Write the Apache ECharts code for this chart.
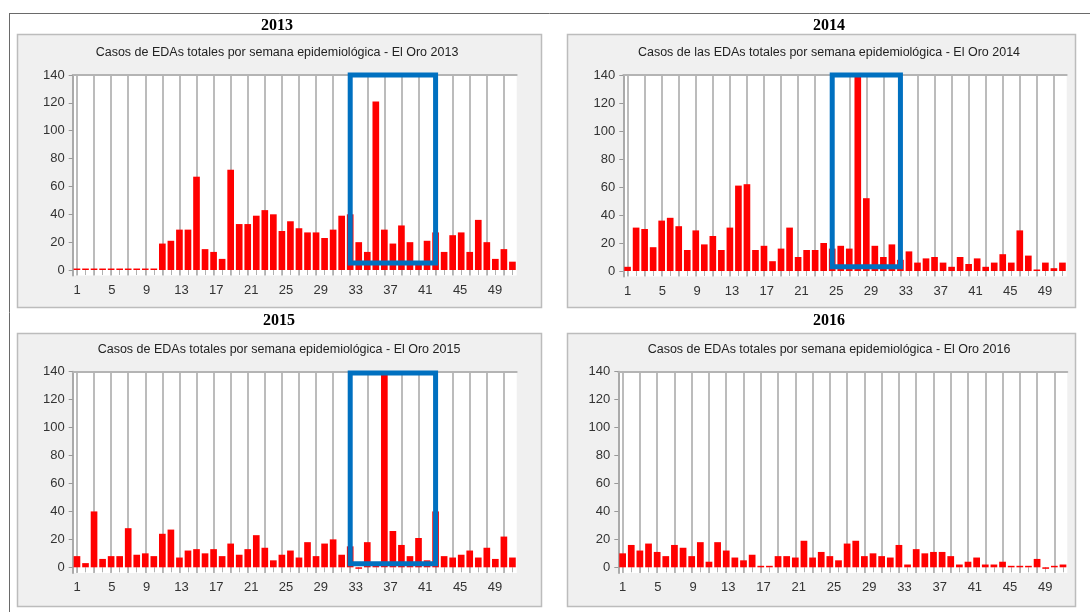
<!DOCTYPE html>
<html>
<head>
<meta charset="utf-8">
<title>Casos de EDAs totales por semana epidemiológica - El Oro</title>
<script src="https://cdn.jsdelivr.net/npm/echarts@6/dist/echarts.min.js"></script>
<style>
    html, body { margin: 0; padding: 0; background: #fff; }
    #chart { width: 1090px; height: 612px; }
</style>
</head>
<body>
<div id="chart"></div>
<script>
// epidemiological weeks (categories) and y tick labels
var weeks = ['1', '2', '3', '4', '5', '6', '7', '8', '9', '10', '11', '12', '13', '14', '15', '16', '17', '18',
    '19', '20', '21', '22', '23', '24', '25', '26', '27', '28', '29', '30', '31', '32', '33', '34', '35', '36',
    '37', '38', '39', '40', '41', '42', '43', '44', '45', '46', '47', '48', '49', '50', '51', '52'];
var yTicks = [0, 20, 40, 60, 80, 100, 120, 140];

var years = ['2013', '2014', '2015', '2016'];
var chartTitles = [
    'Casos de EDAs totales por semana epidemiológica - El Oro 2013',
    'Casos de las EDAs totales por semana epidemiológica - El Oro 2014',
    'Casos de EDAs totales por semana epidemiológica - El Oro 2015',
    'Casos de EDAs totales por semana epidemiológica - El Oro 2016'
];

// weekly cases (peaks above 140 are cut by the axis)
var cases2013 = [0, 0, 0, 0, 0, 0, 0, 0, 0, 0, 19, 21, 29, 29, 67, 15, 13, 8, 72, 33,
    33, 39, 43, 40, 28, 35, 30, 27, 27, 23, 29, 39, 40, 20, 13, 121, 29, 19, 32, 20,
    4, 21, 27, 13, 25, 27, 13, 36, 20, 8, 15, 6];
var cases2014 = [3, 31, 30, 17, 36, 38, 32, 15, 29, 19, 25, 15, 31, 61, 62, 15, 18, 7, 16, 31,
    10, 15, 15, 20, 16, 18, 16, 150, 52, 18, 10, 19, 8, 14, 6, 9, 10, 6, 3, 10,
    5, 9, 3, 6, 12, 6, 29, 11, 1, 6, 2, 6];
var cases2015 = [8, 3, 40, 6, 8, 8, 28, 9, 10, 8, 24, 27, 7, 12, 13, 10, 13, 8, 17, 9,
    13, 23, 14, 5, 9, 12, 7, 18, 8, 17, 20, 9, 15, -1, 18, 2, 150, 26, 16, 8,
    21, 5, 40, 8, 7, 9, 12, 7, 14, 6, 22, 7];
var cases2016 = [10, 16, 12, 17, 11, 8, 16, 14, 8, 18, 4, 18, 12, 7, 5, 9, 0, 0, 8, 8,
    7, 19, 7, 11, 8, 5, 17, 19, 8, 10, 8, 7, 16, 2, 13, 10, 11, 11, 8, 2,
    4, 7, 2, 2, 4, 0, 0, 0, 6, -1, 0, 2];

// highlighted ranges (blue boxes): weeks from/to, cases low/high
var boxWeeks = [['33', '43'], ['25', '33'], ['33', '43'], null];
var boxCases = [[5, 142], [3, 140], [2.5, 139], null];

var allCases = [cases2013, cases2014, cases2015, cases2016];

// panel layout in pixels
var panels = [
    { box: [17, 34, 524, 273], cx: 277, yearY: 26, titleY: 53, grid: { left: 72.7, top: 75, width: 444, height: 200.6 } },
    { box: [567, 34, 508, 273], cx: 829, yearY: 26, titleY: 53, grid: { left: 623.3, top: 75, width: 443.4, height: 201.6 } },
    { box: [17, 333, 524, 273], cx: 279, yearY: 321, titleY: 350, grid: { left: 72.7, top: 371.7, width: 444, height: 201.2 } },
    { box: [567, 333, 508, 273], cx: 829, yearY: 321, titleY: 350, grid: { left: 618.3, top: 371.7, width: 449, height: 201.2 } }
];

var FONT = '"Liberation Sans", Arial, sans-serif';
var grids = [], xAxes = [], yAxes = [], series = [];
var graphics = [
    { type: 'line', z: 1, shape: { x1: 9, y1: 13.5, x2: 1090, y2: 13.5 }, style: { stroke: '#6a6a6a', lineWidth: 1 } },
    { type: 'line', z: 1, shape: { x1: 9.5, y1: 13, x2: 9.5, y2: 612 }, style: { stroke: '#6a6a6a', lineWidth: 1 } }
];

panels.forEach(function (p, i) {
    graphics.push({
        type: 'rect', z: -5,
        shape: { x: p.box[0] + 0.5, y: p.box[1] + 0.5, width: p.box[2], height: p.box[3] },
        style: { fill: '#f0f0f0', stroke: '#bcbcbc', lineWidth: 1.5 }
    });
    graphics.push({
        type: 'text', z: 10, x: p.cx, y: p.yearY,
        style: { text: years[i], font: 'bold 16px "Liberation Serif", "Times New Roman", serif', fill: '#000', textAlign: 'center', textVerticalAlign: 'middle' }
    });
    graphics.push({
        type: 'text', z: 10, x: p.cx, y: p.titleY,
        style: { text: chartTitles[i], font: '12.5px ' + FONT, fill: '#222', textAlign: 'center', textVerticalAlign: 'middle' }
    });

    grids.push({
        left: p.grid.left, top: p.grid.top, width: p.grid.width, height: p.grid.height,
        show: true, backgroundColor: '#fff', borderWidth: 0
    });

    // bar axis: weekly ticks below zero, grid lines every second week
    xAxes.push({
        gridIndex: i, type: 'category', data: weeks, position: 'bottom',
        axisLine: { show: false, onZero: true },
        axisTick: { show: true, alignWithLabel: true, interval: 0, length: 5, lineStyle: { color: '#b0b0b0' } },
        axisLabel: { show: false },
        splitLine: { show: true, interval: 1, alignWithLabel: true, lineStyle: { color: '#bcbcbc', width: 2 } }
    });
    // label axis
    xAxes.push({
        gridIndex: i, type: 'category', data: weeks.slice(0, 51), position: 'bottom',
        axisLine: { show: false, onZero: false },
        axisTick: { show: false },
        axisLabel: { interval: 3, margin: 8, fontSize: 13, color: '#333', fontFamily: FONT },
        splitLine: { show: false }
    });
    // top border
    xAxes.push({
        gridIndex: i, type: 'category', data: weeks, position: 'top',
        axisLine: { show: true, onZero: false, lineStyle: { color: '#b4b4b4', width: 2 } },
        axisTick: { show: false }, axisLabel: { show: false }, splitLine: { show: false }
    });

    yAxes.push({
        gridIndex: i, type: 'value', min: -4, max: 140,
        axisLine: { show: true, onZero: false, lineStyle: { color: '#aaaaaa', width: 2 } },
        axisTick: { show: true, length: 4, customValues: yTicks, lineStyle: { color: '#999' } },
        axisLabel: { customValues: yTicks, margin: 8, fontSize: 13, color: '#333', fontFamily: FONT },
        splitLine: { show: false }
    });

    series.push({
        type: 'bar', xAxisIndex: 3 * i, yAxisIndex: i, data: allCases[i],
        barWidth: '78%', barMinHeight: 1.5, clip: true, silent: true,
        itemStyle: { color: '#ff0000' }
    });

    if (boxWeeks[i]) {
        series.push({
            type: 'scatter', xAxisIndex: 3 * i, yAxisIndex: i, data: [], clip: false, silent: true, z: 10,
            markArea: {
                silent: true, z: 10,
                itemStyle: { color: 'rgba(0,0,0,0)', borderColor: '#0070c0', borderWidth: 5 },
                data: [[
                    { xAxis: boxWeeks[i][0], yAxis: boxCases[i][0] },
                    { xAxis: boxWeeks[i][1], yAxis: boxCases[i][1] }
                ]]
            }
        });
    }
});

var chart = echarts.init(document.getElementById('chart'));
chart.setOption({
    animation: false,
    backgroundColor: '#fff',
    textStyle: { fontFamily: FONT },
    graphic: { elements: graphics },
    grid: grids,
    xAxis: xAxes,
    yAxis: yAxes,
    series: series
});
</script>
</body>
</html>
